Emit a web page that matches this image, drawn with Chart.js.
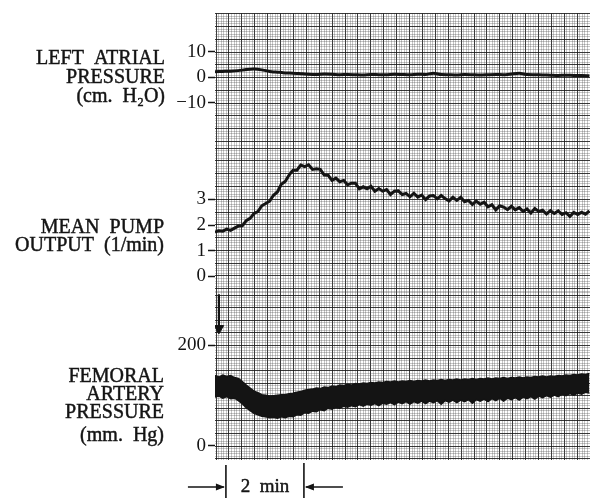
<!DOCTYPE html>
<html><head><meta charset="utf-8">
<script src="https://cdn.jsdelivr.net/npm/chart.js@4.4.1/dist/chart.umd.min.js"></script>
<style>html,body{margin:0;padding:0;background:#fff;}#wrap{width:590px;height:498px;}</style>
</head><body><div id="wrap"><canvas id="c" width="590" height="498"></canvas></div>
<script>
// ---------- data (time in minutes from left edge of record) ----------
const lapMinutes = Array.from({length:49},(_,i)=>+(i*0.2).toFixed(1));
const lapValues = [2.2,2.3,2.4,2.6,3.0,3.2,2.9,2.3,2.0,1.7,1.6,1.4,1.2,1.1,1.3,1.2,1.0,1.1,1.0,0.9,
  1.1,1.0,1.0,1.2,1.1,1.0,1.2,1.1,1.6,1.1,1.0,0.9,1.1,1.0,0.9,1.0,1.1,1.0,1.3,1.6,
  1.1,1.0,0.9,0.8,0.7,0.8,0.7,0.7,0.6];

const traceMinutes = Array.from({length:97},(_,i)=>+(i*0.1).toFixed(1));
const pumpValues = [1.72,1.78,1.76,1.84,1.79,1.88,1.96,1.97,2.17,2.26,
  2.45,2.52,2.75,2.84,2.93,3.16,3.29,3.59,3.70,3.95,
  4.14,4.14,4.34,4.28,4.35,4.17,4.19,4.17,3.95,3.94,
  3.74,3.83,3.69,3.74,3.57,3.63,3.63,3.41,3.49,3.41,
  3.51,3.32,3.42,3.32,3.38,3.19,3.32,3.33,3.19,3.23,
  3.10,3.24,3.09,3.17,2.99,3.13,3.15,3.02,3.15,3.03,
  2.94,3.08,2.96,3.08,2.91,2.96,2.80,2.93,2.81,2.89,
  2.71,2.79,2.59,2.75,2.70,2.60,2.73,2.59,2.68,2.53,
  2.63,2.47,2.64,2.53,2.58,2.43,2.56,2.45,2.55,2.41,
  2.48,2.34,2.49,2.41,2.50,2.42,2.55];
const femSystolic = [140,137,141,138,140,136,134,128,121,115,
  109,106,102,101,99,100,101,102,102,104,
  105,107,108,111,112,113,115,114,117,116,
  119,118,121,120,122,121,124,123,125,124,
  126,125,127,126,128,127,129,127,129,128,
  130,128,130,129,131,129,131,130,132,130,
  132,131,133,131,133,132,134,132,134,133,
  135,133,135,134,136,134,136,135,137,135,
  137,136,138,137,139,137,139,138,140,139,
  141,140,142,141,143,142,144];
const femDiastolic = [97,99,95,98,94,95,90,84,76,70,
  65,62,59,58,56,57,55,58,56,59,
  58,62,61,66,65,69,68,72,70,75,
  73,77,75,79,77,80,78,82,79,83,
  81,84,80,85,83,86,82,87,84,88,
  83,88,85,89,84,89,86,90,83,90,
  87,91,86,91,88,92,85,92,89,93,
  88,94,90,95,89,95,92,96,91,97,
  94,98,93,99,96,100,97,101,98,103,
  100,104,101,105,103,107,105];

const arrowMinutes = [0.1, 0.1];
const arrowMmHg = [302, 234];
const timeBar = [0.28, 2.28];
const timeBarLabel = "2  min";

const lapTicks = [10, 0, -10];
const lapTickLabels = ["10", "0", "−10"];
const pumpTicks = [3, 2, 1, 0];
const pumpTickLabels = ["3", "2", "1", "0"];
const femTicks = [200, 0];
const femTickLabels = ["200", "0"];

const lapTitle = ["LEFT  ATRIAL", "PRESSURE", "(cm.  H₂O)"];
const pumpTitle = ["MEAN  PUMP", "OUTPUT  (1/min)"];
const femTitle = ["FEMORAL", "ARTERY", "PRESSURE", "(mm.  Hg)"];

// ---------- helpers ----------
const pts = (xs, ys) => ys.map((y,i)=>({x:xs[i], y}));
const INK = '#141414';
const SERIF = '"Liberation Serif", "DejaVu Serif", serif';

function gridSeries(start, spacing, from, to){
  const out=[];
  let k=Math.floor((from-start)/spacing)-1;
  for(;;k++){
    const m=start+k*spacing;
    if(m>to) break;
    for(let j=0;j<5;j++){
      const v=m+j*spacing/5;
      if(v>=from && v<=to) out.push({value:v, major:j===0});
    }
  }
  return out;
}
// vertical chart-paper lines (pixel units converted to minutes: 39 px per minute)
const vGrid = gridSeries(216,12.9,215,590).map(t=>({value:(t.value-215)/39, major:t.major}));
// horizontal chart-paper lines, three channel strips
const hGrid = [].concat(
  gridSeries(9.3,12.9,9,140),
  gridSeries(196.7,12.9,140.01,290),
  gridSeries(344.3,12.7,290.01,459.5)
);

const gridColor = c => (c.tick && c.tick.major) ? 'rgba(25,25,25,0.85)' : 'rgba(70,70,70,0.30)';

function dataAxis(min, max, ticks, labels){
  return {
    type:'linear', position:'left', min, max,
    afterBuildTicks: s => { s.ticks = ticks.map(v=>({value:v})); },
    afterFit: s => { s.width = 0; },
    border:{display:false},
    grid:{drawOnChartArea:false, drawTicks:true, tickLength:7, tickColor:INK, tickWidth:1.5},
    ticks:{autoSkip:false, padding:2, color:INK, font:{family:SERIF, size:19},
      callback: v => labels[ticks.indexOf(v)] }
  };
}

// let the zero-width tick axes draw their labels to the left of the grid
const widenAxes = {
  id:'widenAxes',
  afterLayout(chart){
    ['lap','pump','fem'].forEach(id=>{
      const s = chart.scales[id];
      s.left = 0; s.width = s.right;
    });
  }
};

const annot = {
  id:'annot',
  afterDraw(chart){
    const ctx = chart.ctx;
    const xs = chart.scales.x;
    ctx.save();
    ctx.fillStyle = INK; ctx.strokeStyle = INK;
    ctx.font = '20px ' + SERIF;
    ctx.textAlign = 'right'; ctx.textBaseline = 'alphabetic';
    ctx.lineWidth = 0.45;
    const put = (t,x,y) => { ctx.fillText(t,x,y); ctx.strokeText(t,x,y); };
    const lap0 = chart.scales.lap.getPixelForValue(0);
    [[-13.5,0],[5.5,1],[24.5,2]].forEach(([d,i])=>put(lapTitle[i],165,lap0+d));
    const pump2 = chart.scales.pump.getPixelForValue(2);
    [[7.5,0],[25.5,1]].forEach(([d,i])=>put(pumpTitle[i],164,pump2+d));
    const fem0 = chart.scales.fem.getPixelForValue(0);
    [[-63.5,0],[-45.5,1],[-27.5,2],[-4.5,3]].forEach(([d,i])=>put(femTitle[i],164,fem0+d));

    // time calibration bar
    const xa = xs.getPixelForValue(timeBar[0]);
    const xb = xs.getPixelForValue(timeBar[1]);
    const yb = chart.chartArea.bottom;
    ctx.lineWidth = 1.6;
    ctx.beginPath();
    ctx.moveTo(xa, yb+5); ctx.lineTo(xa, 498);
    ctx.moveTo(xb, yb+3); ctx.lineTo(xb, 498);
    const ya = yb + 27;
    ctx.moveTo(xa-38, ya); ctx.lineTo(xa-2, ya);
    ctx.moveTo(xb+39, ya); ctx.lineTo(xb+2, ya);
    ctx.stroke();
    ctx.beginPath();
    ctx.moveTo(xa-1, ya); ctx.lineTo(xa-10, ya-3.5); ctx.lineTo(xa-10, ya+3.5); ctx.closePath();
    ctx.moveTo(xb+1, ya); ctx.lineTo(xb+10, ya-3.5); ctx.lineTo(xb+10, ya+3.5); ctx.closePath();
    ctx.fill();
    ctx.font = '19px ' + SERIF;
    ctx.textAlign = 'center';
    ctx.lineWidth = 0.45;
    put(timeBarLabel, (xa+xb)/2, yb+32);
    ctx.restore();
  }
};

new Chart(document.getElementById('c'), {
  type:'line',
  data:{
    datasets:[
      {label:'Left atrial pressure', yAxisID:'lap', data:pts(lapMinutes, lapValues),
        borderColor:INK, borderWidth:3, pointRadius:0, fill:false, tension:0.2},
      {label:'Mean pump output', yAxisID:'pump', data:pts(traceMinutes, pumpValues),
        borderColor:INK, borderWidth:3, pointRadius:0, fill:false, tension:0},
      {label:'Femoral diastolic', yAxisID:'fem', data:pts(traceMinutes, femDiastolic),
        borderColor:INK, borderWidth:1.5, pointRadius:0, fill:false, tension:0},
      {label:'Femoral systolic', yAxisID:'fem', data:pts(traceMinutes, femSystolic),
        borderColor:INK, borderWidth:1.5, pointRadius:0, fill:'-1', backgroundColor:INK, tension:0},
      {label:'Injection', yAxisID:'fem', data:pts(arrowMinutes, arrowMmHg),
        borderColor:INK, borderWidth:2.2, pointRadius:[0,5.5], pointStyle:'triangle', rotation:180,
        pointBackgroundColor:INK, pointBorderColor:INK, pointBorderWidth:1, fill:false}
    ]
  },
  options:{
    responsive:false, animation:false, devicePixelRatio:1,
    layout:{autoPadding:false, padding:{left:215, top:9, right:0, bottom:38}},
    plugins:{legend:{display:false}, tooltip:{enabled:false}},
    scales:{
      x:{type:'linear', position:'bottom', min:0, max:375/39,
        afterBuildTicks: s => { s.ticks = vGrid.map(t=>({value:t.value, major:t.major})); },
        afterFit: s => { s.height = 0; },
        border:{display:false},
        grid:{color:gridColor, lineWidth:1, drawTicks:false},
        ticks:{display:false}},
      g:{type:'linear', position:'left', reverse:true, min:9, max:460,
        afterBuildTicks: s => { s.ticks = hGrid.map(t=>({value:t.value, major:t.major})); },
        afterFit: s => { s.width = 0; },
        border:{display:false},
        grid:{color:gridColor, lineWidth:1, drawTicks:false},
        ticks:{display:false}},
      lap: dataAxis(-149.8, 25.0, lapTicks, lapTickLabels),
      pump: dataAxis(-7.16, 10.25, pumpTicks, pumpTickLabels),
      fem: dataAxis(-28.2, 861.3, femTicks, femTickLabels)
    }
  },
  plugins:[widenAxes, annot]
});
</script></body></html>
